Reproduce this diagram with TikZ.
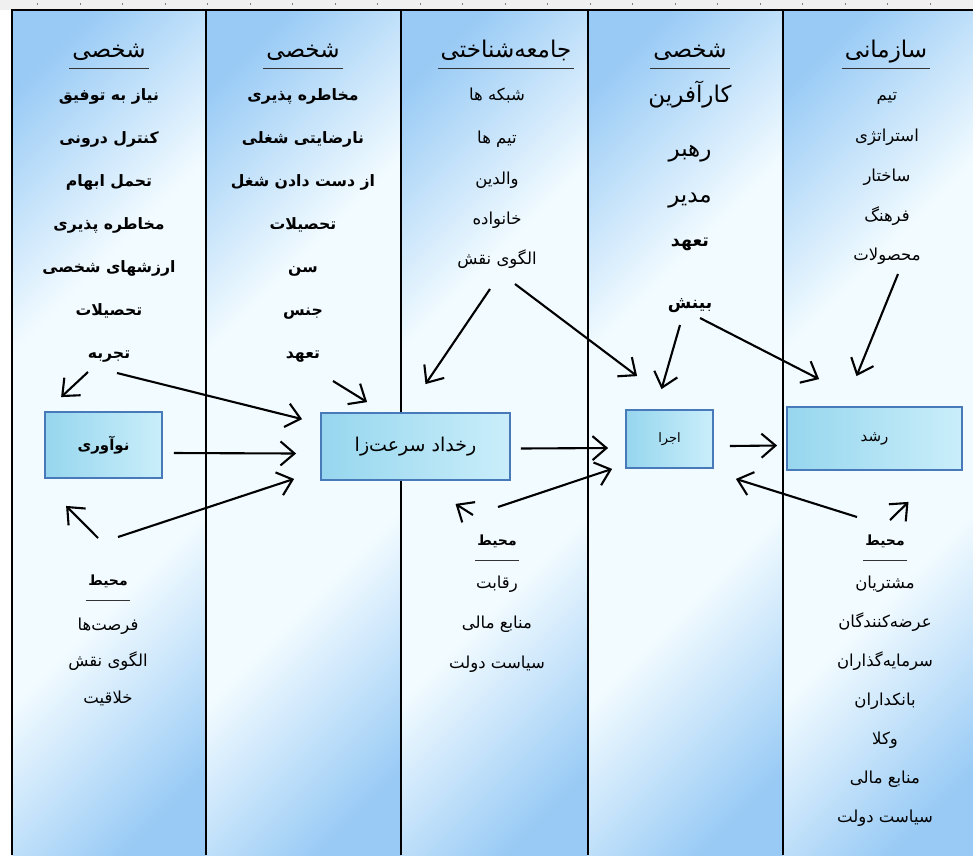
\documentclass[tikz,border=0pt]{standalone}
\usepackage{fontspec}
\newfontfamily\persianfont[Script=Arabic]{DejaVu Sans}
\TeXXeTstate=1
\usetikzlibrary{arrows.meta}

\newcommand{\rl}[1]{\beginR #1\endR}

\definecolor{colblue}{RGB}{152,202,245}
\definecolor{colwhite}{RGB}{242,251,255}
\definecolor{boxa}{RGB}{150,214,238}
\definecolor{boxb}{RGB}{202,238,250}
\definecolor{boxline}{RGB}{72,122,186}

\pgfdeclareverticalshading{colshade}{100bp}{color(0bp)=(colblue); color(20bp)=(colblue); color(38bp)=(colwhite); color(62bp)=(colwhite); color(80bp)=(colblue); color(100bp)=(colblue)}

\tikzset{
  colbg/.style={shading=colshade, shading angle=45},
  colline/.style={line width=2.6pt},
  title/.style={font=\persianfont\fontsize{23}{26}\selectfont, text height=18pt, text depth=8pt, inner xsep=3pt, inner ysep=3pt},
  envtitle/.style={font=\persianfont\bfseries\fontsize{14}{16}\selectfont, text height=11pt, text depth=5pt, inner xsep=2pt, inner ysep=10pt},
  itemb/.style={font=\persianfont\bfseries\fontsize{15.7}{18}\selectfont, text height=12pt, text depth=5pt, inner sep=0pt},
  itemn/.style={font=\persianfont\fontsize{16.5}{19}\selectfont, text height=12pt, text depth=5pt, inner sep=0pt},
  itemw/.style={font=\persianfont\fontsize{23}{26}\selectfont, text height=16pt, text depth=7pt, inner sep=0pt},
  stagebox/.style={draw=boxline, line width=1.8pt, left color=boxa, right color=boxb, inner sep=0pt},
  arr/.style={-{Straight Barb[length=14pt,width=24pt]}, line width=2.1pt},
}

\begin{document}
\begin{tikzpicture}[x=1pt,y=-1pt]
    \useasboundingbox (0,0) rectangle (973,855);

    % Ruler
    \fill[gray!12] (0,0) rectangle (973,10);
    \foreach \x in {37.5,80,...,970}
        \draw[gray, line width=0.6pt] (\x,3) -- (\x,5);

    % Columns
    \shade[colbg] (12,10) rectangle (206,855);
    \shade[colbg] (206,10) rectangle (401,855);
    \shade[colbg] (401,10) rectangle (588,855);
    \shade[colbg] (588,10) rectangle (783,855);
    \shade[colbg] (783,10) rectangle (973,855);
    \draw[colline] (12,855) -- (12,10) -- (973,10);
    \draw[colline] (206,10) -- (206,855);
    \draw[colline] (401,10) -- (401,855);
    \draw[colline] (588,10) -- (588,855);
    \draw[colline] (783,10) -- (783,855);

    % Column 1
    \node[title] (h1) at (109,52) {\rl{شخصی}};
    \node[itemb] (a1) at (109,97) {\rl{نیاز به توفیق}};
    \node[itemb] (a2) at (109,140) {\rl{کنترل درونی}};
    \node[itemb] (a3) at (109,183) {\rl{تحمل ابهام}};
    \node[itemb] (a4) at (109,226) {\rl{مخاطره پذیری}};
    \node[itemb] (a5) at (109,269) {\rl{ارزشهای شخصی}};
    \node[itemb] (a6) at (109,312) {\rl{تحصیلات}};
    \node[itemb] (a7) at (109,355) {\rl{تجربه}};

    % Column 2
    \node[title] (h2) at (303,52) {\rl{شخصی}};
    \node[itemb] (b1) at (303,97) {\rl{مخاطره پذیری}};
    \node[itemb] (b2) at (303,140) {\rl{نارضایتی شغلی}};
    \node[itemb] (b3) at (303,183) {\rl{از دست دادن شغل}};
    \node[itemb] (b4) at (303,226) {\rl{تحصیلات}};
    \node[itemb] (b5) at (303,269) {\rl{سن}};
    \node[itemb] (b6) at (303,312) {\rl{جنس}};
    \node[itemb] (b7) at (303,355) {\rl{تعهد}};

    % Column 3
    \node[title] (h3) at (506,52) {\rl{جامعه‌شناختی}};
    \node[itemn] (c1) at (497,97) {\rl{شبکه ها}};
    \node[itemn] (c2) at (497,140) {\rl{تیم ها}};
    \node[itemn] (c3) at (497,181) {\rl{والدین}};
    \node[itemn] (c4) at (497,221) {\rl{خانواده}};
    \node[itemn] (c5) at (497,261) {\rl{الگوی نقش}};

    % Column 4
    \node[title] (h4) at (690,52) {\rl{شخصی}};
    \node[itemw] (d1) at (690,98) {\rl{کارآفرین}};
    \node[itemw] (d2) at (690,152) {\rl{رهبر}};
    \node[itemw] (d3) at (690,198) {\rl{مدیر}};
    \node[itemb, font=\persianfont\bfseries\fontsize{17.5}{20}\selectfont] (d4) at (690,243) {\rl{تعهد}};
    \node[itemb, font=\persianfont\bfseries\fontsize{17}{20}\selectfont] (d5) at (690,305) {\rl{بینش}};

    % Column 5
    \node[title] (h5) at (886,52) {\rl{سازمانی}};
    \node[itemn] (e1) at (887,97) {\rl{تیم}};
    \node[itemn] (e2) at (887,138) {\rl{استراتژی}};
    \node[itemn] (e3) at (887,178) {\rl{ساختار}};
    \node[itemn] (e4) at (887,218) {\rl{فرهنگ}};
    \node[itemn] (e5) at (887,257) {\rl{محصولات}};

    % Underlines
    \foreach \h in {h1,h2,h3,h4,h5}
        \draw[line width=0.9pt, black!80] (\h.south west) -- (\h.south east);

    % Environment
    \node[envtitle] (f0) at (108,582) {\rl{محیط}};
    \node[itemn] (f1) at (108,627) {\rl{فرصت‌ها}};
    \node[itemn] (f2) at (108,663) {\rl{الگوی نقش}};
    \node[itemn] (f3) at (108,700) {\rl{خلاقیت}};

    \node[envtitle] (g0) at (497,542) {\rl{محیط}};
    \node[itemn] (g1) at (497,585) {\rl{رقابت}};
    \node[itemn] (g2) at (497,625) {\rl{منابع مالی}};
    \node[itemn] (g3) at (497,665) {\rl{سیاست دولت}};

    \node[envtitle] (k0) at (885,542) {\rl{محیط}};
    \node[itemn] (k1) at (885,585) {\rl{مشتریان}};
    \node[itemn] (k2) at (885,624) {\rl{عرضه‌کنندگان}};
    \node[itemn] (k3) at (885,663) {\rl{سرمایه‌گذاران}};
    \node[itemn] (k4) at (885,702) {\rl{بانکداران}};
    \node[itemn] (k5) at (885,741) {\rl{وکلا}};
    \node[itemn] (k6) at (885,780) {\rl{منابع مالی}};
    \node[itemn] (k7) at (885,819) {\rl{سیاست دولت}};

    \foreach \h in {f0,g0,k0}
        \draw[line width=0.9pt, black!80] (\h.south west) -- (\h.south east);

    % Stages
    \node[stagebox, minimum width=117pt, minimum height=66pt, font=\persianfont\bfseries\fontsize{15}{17}\selectfont] (innov) at (103.5,445) {\rl{نوآوری}};
    \node[stagebox, minimum width=189pt, minimum height=67pt, font=\persianfont\fontsize{19}{22}\selectfont] (rokhdad) at (415.5,446.5) {\rl{رخداد سرعت‌زا}};
    \node[stagebox, minimum width=87pt, minimum height=58pt, font=\persianfont\fontsize{13}{15}\selectfont] (ejra) at (669.5,439) {\rl{اجرا}};
    \node[stagebox, minimum width=175pt, minimum height=63pt, font=\persianfont\fontsize{15}{17}\selectfont] (roshd) at (874.5,438.5) {\rl{رشد}};

    % Arrows
    \draw[arr] ([xshift=-21pt,yshift=-17pt]a7.center) -- ([xshift=17pt,yshift=14pt]innov.north west);
    \draw[arr] ([xshift=8pt,yshift=-18pt]a7.center) -- ([xshift=-18pt,yshift=-7pt]rokhdad.north west);
    \draw[arr] ([xshift=30pt,yshift=-26pt]b7.center) -- ([xshift=47pt,yshift=10pt]rokhdad.north west);
    \draw[arr] ([xshift=-7pt,yshift=-28pt]c5.center) -- ([xshift=10pt,yshift=28pt]rokhdad.north);
    \draw[arr] ([xshift=18pt,yshift=-23pt]c5.center) -- ([xshift=12pt,yshift=33pt]ejra.north west);
    \draw[arr] ([xshift=-10pt,yshift=-20pt]d5.center) -- ([xshift=-8pt,yshift=20pt]ejra.north);
    \draw[arr] ([xshift=10pt,yshift=-13pt]d5.center) -- ([xshift=33pt,yshift=27pt]roshd.north west);
    \draw[arr] ([xshift=11pt,yshift=-17pt]e5.center) -- ([xshift=-18pt,yshift=30pt]roshd.north);
    \draw[arr] ([xshift=11pt,yshift=-8pt]innov.east) -- ([xshift=-24pt,yshift=-7pt]rokhdad.west);
    \draw[arr] ([xshift=10pt,yshift=45pt]f0.center) -- ([xshift=-26pt,yshift=2pt]rokhdad.south west);
    \draw[arr] ([xshift=-10pt,yshift=44pt]f0.center) -- ([xshift=22pt,yshift=-27pt]innov.south west);
    \draw[arr] ([xshift=10pt,yshift=-2pt]rokhdad.east) -- ([xshift=-17pt,yshift=-9pt]ejra.west);
    \draw[arr] ([xshift=1pt,yshift=35pt]g0.center) -- ([xshift=-13pt]ejra.south west);
    \draw[arr] ([xshift=-24pt,yshift=27pt]g0.center) -- ([xshift=40pt,yshift=-23pt]rokhdad.south);
    \draw[arr] ([xshift=16pt,yshift=-7pt]ejra.east) -- ([xshift=-9pt,yshift=-7pt]roshd.west);
    \draw[arr] ([xshift=-28pt,yshift=25pt]k0.center) -- ([xshift=22pt,yshift=-10pt]ejra.south east);
    \draw[arr] ([xshift=5pt,yshift=22pt]k0.center) -- ([xshift=34pt,yshift=-31pt]roshd.south);
\end{tikzpicture}
\end{document}
